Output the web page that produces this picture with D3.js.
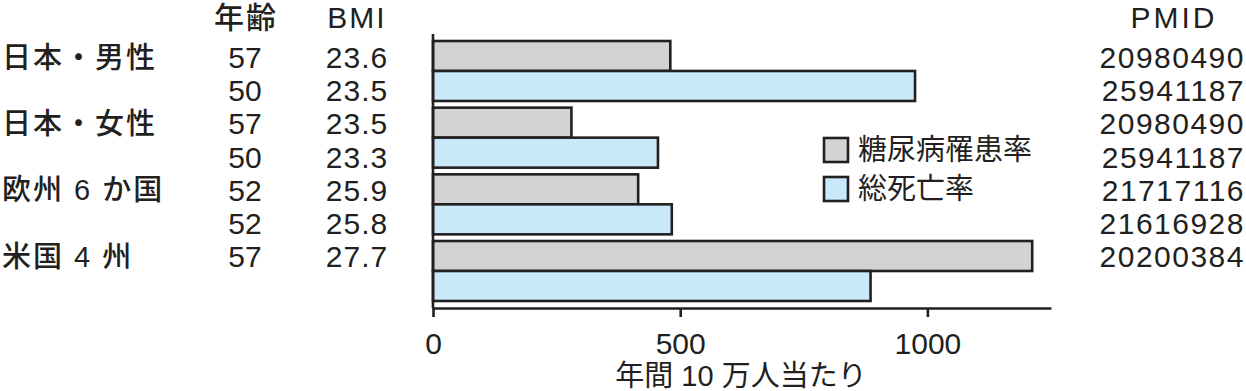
<!DOCTYPE html>
<html>
<head>
<meta charset="utf-8">
<script src="https://cdn.jsdelivr.net/npm/d3@7"></script>
<style>
  html, body { margin: 0; padding: 0; background: #fff; }
  svg { display: block; }
  text { font-family: "Liberation Sans", "Noto Sans CJK JP", sans-serif; fill: #231f20; }
</style>
</head>
<body>
<svg id="chart" width="1246" height="391"></svg>
<script>
// ---- data ----
const groups = ["日本・男性", "日本・女性", "欧州 6 か国", "米国 4 州"];
const seriesNames = ["糖尿病罹患率", "総死亡率"];
const diabetesRate = [480, 280, 415, 1212];
const mortalityRate = [975, 455, 483, 885];
const rowLabels = ["日本・男性", "", "日本・女性", "", "欧州 6 か国", "", "米国 4 州"];
const ages = ["57", "50", "57", "50", "52", "52", "57"];
const bmis = ["23.6", "23.5", "23.5", "23.3", "25.9", "25.8", "27.7"];
const pmids = ["20980490", "25941187", "20980490", "25941187", "21717116", "21616928", "20200384"];
const xTicks = [0, 500, 1000];
const headers = { age: "年齢", bmi: "BMI", pmid: "PMID" };
const xTitle = "年間 10 万人当たり";

// ---- styles ----
const ink = "#231f20";
const colors = ["#d1d3d4", "#c8e9f9"];
const fs = 30;

const svg = d3.select("#chart");

const x = d3.scaleLinear().domain([0, 1250]).range([433, 1051]);
const yGroup = d3.scaleBand().domain(groups).range([41, 301]).paddingInner(0.1).paddingOuter(0);
const ySeries = d3.scaleBand().domain(seriesNames).range([0, yGroup.bandwidth()]);
const yRow = d3.scalePoint().domain(d3.range(rowLabels.length)).range([57.5, 256.7]);

const barData = [];
groups.forEach((g, i) => {
  barData.push({ g, s: seriesNames[0], v: diabetesRate[i] });
  barData.push({ g, s: seriesNames[1], v: mortalityRate[i] });
});

// bars
svg.append("g").selectAll("rect").data(barData).join("rect")
  .attr("x", x(0))
  .attr("y", d => yGroup(d.g) + ySeries(d.s))
  .attr("width", d => x(d.v) - x(0))
  .attr("height", ySeries.bandwidth())
  .attr("fill", d => colors[seriesNames.indexOf(d.s)])
  .attr("stroke", ink)
  .attr("stroke-width", 2.6);

// y axis line
svg.append("line")
  .attr("x1", x(0)).attr("x2", x(0))
  .attr("y1", 34).attr("y2", 308)
  .attr("stroke", ink).attr("stroke-width", 2.6);

// x axis
const xAxis = svg.append("g")
  .attr("transform", "translate(0,308)")
  .call(d3.axisBottom(x).tickValues(xTicks).tickSize(9).tickSizeOuter(0).tickFormat(d3.format("d")));
xAxis.select(".domain").attr("stroke", ink).attr("stroke-width", 2.6);
xAxis.selectAll(".tick line").attr("stroke", ink).attr("stroke-width", 2.6);
xAxis.selectAll(".tick text")
  .attr("y", 35).attr("dy", null)
  .attr("dominant-baseline", "central")
  .attr("font-size", fs)
  .attr("font-family", null)
  .attr("fill", ink);

// x title
svg.append("text")
  .attr("x", 741).attr("y", 376)
  .attr("text-anchor", "middle").attr("dominant-baseline", "central")
  .attr("font-size", 29)
  .text(xTitle);

// headers
const headerY = 17;
svg.append("text").attr("x", 246).attr("y", headerY)
  .attr("text-anchor", "middle").attr("dominant-baseline", "central")
  .attr("font-size", fs).attr("font-weight", 500).attr("letter-spacing", 2).text(headers.age);
svg.append("text").attr("x", 357).attr("y", headerY)
  .attr("text-anchor", "middle").attr("dominant-baseline", "central")
  .attr("font-size", fs).attr("letter-spacing", 2).text(headers.bmi);
svg.append("text").attr("x", 1174).attr("y", headerY)
  .attr("text-anchor", "middle").attr("dominant-baseline", "central")
  .attr("font-size", fs).attr("letter-spacing", 3).text(headers.pmid);

// row labels
svg.append("g").selectAll("text").data(rowLabels).join("text")
  .attr("x", 2).attr("y", (d, i) => yRow(i))
  .attr("dominant-baseline", "central")
  .attr("font-size", 29).attr("font-weight", 500)
  .attr("letter-spacing", 2)
  .text(d => d);

svg.append("g").selectAll("text").data(ages).join("text")
  .attr("x", 245).attr("y", (d, i) => yRow(i))
  .attr("text-anchor", "middle").attr("dominant-baseline", "central")
  .attr("font-size", fs)
  .text(d => d);

svg.append("g").selectAll("text").data(bmis).join("text")
  .attr("x", 357).attr("y", (d, i) => yRow(i))
  .attr("text-anchor", "middle").attr("dominant-baseline", "central")
  .attr("font-size", fs).attr("letter-spacing", 1)
  .text(d => d);

svg.append("g").selectAll("text").data(pmids).join("text")
  .attr("x", 1245).attr("y", (d, i) => yRow(i))
  .attr("text-anchor", "end").attr("dominant-baseline", "central")
  .attr("font-size", fs).attr("letter-spacing", 1.5)
  .text(d => d);

// legend
const legend = svg.append("g").selectAll("g").data(seriesNames).join("g")
  .attr("transform", (d, i) => `translate(824,${138 + i * 39})`);
legend.append("rect")
  .attr("width", 24).attr("height", 24)
  .attr("fill", (d, i) => colors[i])
  .attr("stroke", ink).attr("stroke-width", 2.6);
legend.append("text")
  .attr("x", 34).attr("y", 12)
  .attr("dominant-baseline", "central")
  .attr("font-size", 29)
  .text(d => d);
</script>
</body>
</html>
